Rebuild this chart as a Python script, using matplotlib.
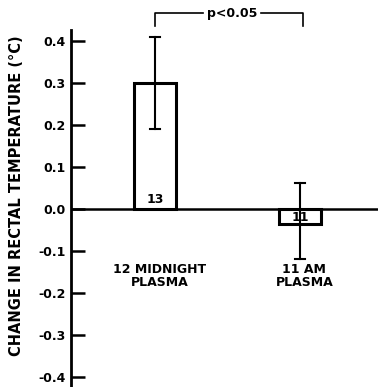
import matplotlib
matplotlib.use("Agg")
import matplotlib.pyplot as plt

# values
groups = ["12 MIDNIGHT\nPLASMA", "11 AM\nPLASMA"]
means = [0.30, -0.035]
err_hi = [0.41, 0.063]
err_lo = [0.19, -0.12]
n_labels = ["13", "11"]
yticks = [0.4, 0.3, 0.2, 0.1, 0.0, -0.1, -0.2, -0.3, -0.4]
ytick_labels = ["0.4", "0.3", "0.2", "0.1", "0.0", "-0.1", "-0.2", "-0.3", "-0.4"]

plt.rcParams["font.family"] = ["DejaVu Sans"]
plt.rcParams["font.weight"] = "bold"
plt.rcParams["axes.labelweight"] = "bold"

fig = plt.figure(figsize=(3.78, 3.87), dpi=100)
ax = fig.add_axes([71 / 378, 0, 307 / 378, 357 / 387])

xs = [1, 2]
ax.bar(xs, means, width=0.29, facecolor="white", edgecolor="black", linewidth=2.2, zorder=2)
for x, hi, lo in zip(xs, err_hi, err_lo):
    ax.plot([x, x], [lo, hi], color="black", lw=1.5, zorder=3)
    ax.plot([x - 0.035, x + 0.035], [hi, hi], color="black", lw=1.5, zorder=3)
    ax.plot([x - 0.035, x + 0.035], [lo, lo], color="black", lw=1.5, zorder=3)

ax.text(1, 0.007, n_labels[0], ha="center", va="bottom", fontsize=9, zorder=4)
ax.text(2, -0.006, n_labels[1], ha="center", va="top", fontsize=9, zorder=4)

ax.axhline(0, color="black", lw=1.8, zorder=1)

# significance bracket
ax.plot([1, 1, 1.33], [0.436, 0.467, 0.467], color="black", lw=1.2, clip_on=False)
ax.plot([1.73, 2.02, 2.02], [0.467, 0.467, 0.436], color="black", lw=1.2, clip_on=False)
ax.text(1.53, 0.467, "p<0.05", ha="center", va="center", fontsize=9)

for x, g in zip(xs, groups):
    ax.text(x + 0.03, -0.128, g, ha="center", va="top", fontsize=9, linespacing=1.0)

ax.set_xlim(1 - 84 / 145, 2 + 78 / 145)
ax.set_ylim(-0.425, 0.427)
ax.set_yticks(yticks)
ax.set_yticklabels(ytick_labels, fontsize=9)
ax.set_xticks([])
ax.tick_params(axis="y", direction="in", length=10, width=1.8, pad=4)
for s in ["top", "right", "bottom"]:
    ax.spines[s].set_visible(False)
ax.spines["left"].set_linewidth(2)
ax.set_ylabel("CHANGE IN RECTAL TEMPERATURE (°C)", fontsize=10.5)
ax.yaxis.set_label_coords(-0.152, 0.535)

fig.savefig("out.png", dpi=100)
